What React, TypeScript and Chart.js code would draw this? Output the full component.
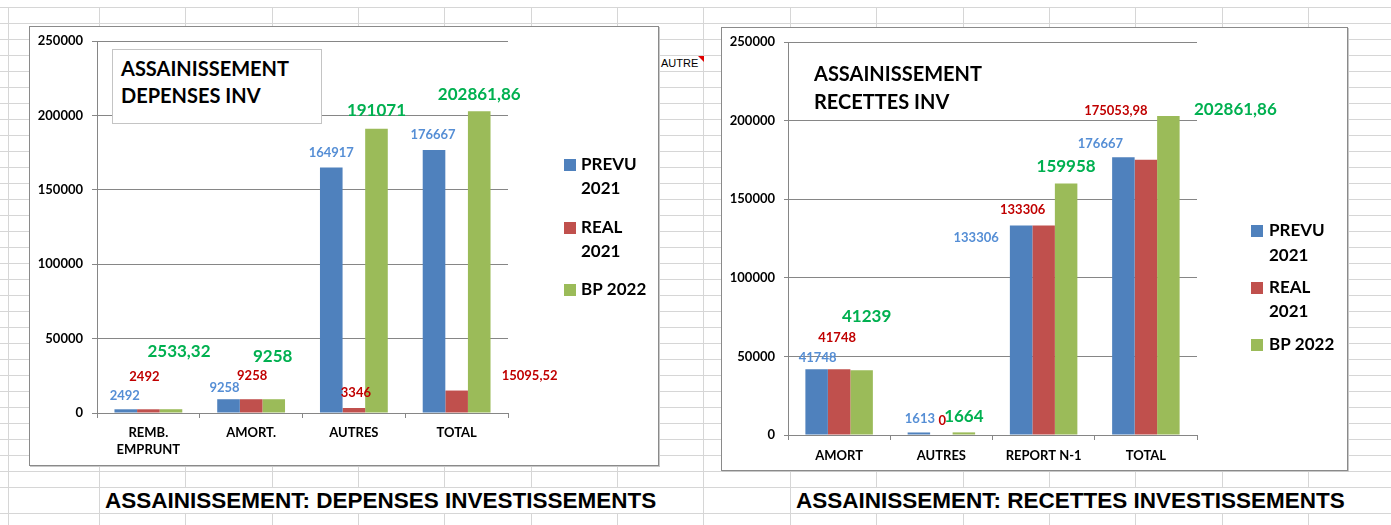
import React, { useEffect, useRef } from "react";
import { Chart, registerables } from "chart.js";

Chart.register(...registerables);

// ---------- DATA ----------
const LEGEND_LINES = [["PREVU", "2021"], ["REAL", "2021"], ["BP 2022"]];

const DEP_CATEGORIES: (string | string[])[] = [["REMB.", "EMPRUNT"], "AMORT.", "AUTRES", "TOTAL"];
const DEP_PREVU = [2492, 9258, 164917, 176667];
const DEP_REAL = [2492, 9258, 3346, 15095.52];
const DEP_BP = [2533.32, 9258, 191071, 202861.86];

const REC_CATEGORIES: (string | string[])[] = ["AMORT", "AUTRES", "REPORT N-1", "TOTAL"];
const REC_PREVU = [41748, 1613, 133306, 176667];
const REC_REAL = [41748, 0, 133306, 175053.98];
const REC_BP = [41239, 1664, 159958, 202861.86];

const Y_MIN = 0;
const Y_MAX = 250000;
const Y_STEP = 50000;

// ---------- STYLE / LAYOUT ----------
const FONT = "Lato, 'Open Sans', sans-serif";
const SHEET_FONT = "'Liberation Sans', Arial, sans-serif";
const GRID = "#868686";
const BAR_COLORS = ["#4F81BD", "#C0504D", "#9BBB59"];
const LABEL_COLORS = ["#558ED5", "#C00000", "#00B050"];
const LABEL_SIZES = [13, 13, 17];

// label offsets (dx, dy) from bar centre-top, per series then category
const DEP_OFFSETS = [
  [[-1, -13], [-4, -11], [0, -15], [-1, -15]],
  [[-4, -32], [1, -23], [2, -15], [73, -15]],
  [[8, -58], [-1, -43], [0, -18], [0, -17]],
];
const REC_OFFSETS = [
  [[1, -12], [1, -13.5], [-45, 12], [-23, -13]],
  [[-2, -32], [1, -14], [-21, -16], [-30, -49]],
  [[5, -54], [0, -16], [0, -17], [67, -7]],
];

const fmt = (v: number) =>
  Number.isInteger(v) ? String(v) : v.toFixed(2).replace(".", ",");

type LegendPos = { sqX: number; textX: number; ys: number[][] };

function makeDecor(offsets: number[][][], legend: LegendPos) {
  return {
    id: "decor",
    afterDatasetsDraw(chart: any) {
      const ctx = chart.ctx as CanvasRenderingContext2D;
      ctx.save();
      chart.data.datasets.forEach((ds: any, i: number) => {
        const meta = chart.getDatasetMeta(i);
        ctx.font = `bold ${LABEL_SIZES[i]}px ${FONT}`;
        ctx.fillStyle = LABEL_COLORS[i];
        ctx.textAlign = "center";
        ctx.textBaseline = "middle";
        meta.data.forEach((el: any, j: number) => {
          const [dx, dy] = offsets[i][j];
          ctx.fillText(fmt(ds.data[j]), el.x + dx, el.y + dy);
        });
      });
      ctx.font = `bold 17px ${FONT}`;
      ctx.textAlign = "left";
      ctx.textBaseline = "middle";
      chart.data.datasets.forEach((ds: any, i: number) => {
        const ys = legend.ys[i];
        ctx.fillStyle = ds.backgroundColor;
        ctx.fillRect(legend.sqX, ys[0] - 6, 12, 12);
        ctx.fillStyle = "#000";
        LEGEND_LINES[i].forEach((t, k) => ctx.fillText(t, legend.textX, ys[k]));
      });
      ctx.restore();
    },
  };
}

type ChartProps = {
  width: number;
  height: number;
  categories: (string | string[])[];
  series: number[][];
  offsets: number[][][];
  legend: LegendPos;
  yWidth: number;
  xHeight: number;
  yTickLen: number;
  yPad: number;
  xPad: number;
  topPad: number;
};

function BarChart(p: ChartProps) {
  const ref = useRef<HTMLCanvasElement>(null);
  useEffect(() => {
    const tickFont = { family: FONT, size: 13, weight: "bold" as const, lineHeight: 1.3 };
    const chart = new Chart(ref.current!, {
      type: "bar",
      data: {
        labels: p.categories as any,
        datasets: p.series.map((d, i) => ({
          label: LEGEND_LINES[i].join(" "),
          data: d,
          backgroundColor: BAR_COLORS[i],
          borderWidth: 0,
          categoryPercentage: 0.66,
          barPercentage: 1,
        })),
      },
      options: {
        responsive: false,
        animation: false,
        layout: { padding: { left: 0, right: 150, top: p.topPad, bottom: 0 } },
        plugins: { legend: { display: false }, tooltip: { enabled: false } },
        scales: {
          x: {
            offset: true,
            grid: { display: true, drawOnChartArea: false, drawTicks: true, tickLength: 5, color: GRID, offset: true },
            border: { color: GRID, width: 1 },
            ticks: { font: tickFont, color: "#000", padding: p.xPad, maxRotation: 0, autoSkip: false },
            afterFit: (s: any) => { s.height = p.xHeight; },
          },
          y: {
            min: Y_MIN,
            max: Y_MAX,
            grid: { color: GRID, tickLength: p.yTickLen, lineWidth: 1 },
            border: { color: GRID, width: 1 },
            ticks: { stepSize: Y_STEP, font: tickFont, color: "#000", padding: p.yPad, callback: (v: any) => String(v) },
            afterFit: (s: any) => {
              s.width = p.yWidth;
              s.paddingTop = 0;
              s.paddingBottom = 0;
            },
          },
        },
      },
      plugins: [makeDecor(p.offsets, p.legend)],
    });
    return () => chart.destroy();
  }, []);
  return (
    <canvas ref={ref} width={p.width} height={p.height} style={{ display: "block", width: p.width, height: p.height }} />
  );
}

// spreadsheet decoration
const ROW_LINES = Array.from({ length: 31 }, (_, k) => 7 + 16 * k).concat([513]);
const COL_LINES = [8].concat(Array.from({ length: 16 }, (_, k) => Math.round(99 + 86.35 * k)));

export default function App() {
  const abs = (o: React.CSSProperties): React.CSSProperties => ({ position: "absolute", ...o });
  return (
    <div style={abs({ left: 0, top: 0, width: 1391, height: 525, background: "#fff", overflow: "hidden" })}>
      {ROW_LINES.map((y) => (
        <div key={"r" + y} style={abs({ left: 0, top: y, width: 1391, height: 1, background: "#d6d6d6" })} />
      ))}
      {COL_LINES.map((x) => (
        <div key={"c" + x} style={abs({ left: x, top: 7, width: 1, height: 518, background: "#d6d6d6" })} />
      ))}

      {/* cell text */}
      <div style={abs({ left: 661, top: 55, height: 16, lineHeight: "16px", fontFamily: SHEET_FONT, fontSize: 11, color: "#000" })}>AUTRE</div>
      <div style={abs({ left: 698, top: 56, width: 0, height: 0, borderTop: "6px solid #e00000", borderLeft: "6px solid transparent" })} />

      <div style={abs({ left: 100, top: 488, width: 603, height: 25, background: "#fff", fontFamily: SHEET_FONT, fontWeight: "bold", fontSize: 22.5, lineHeight: "25px", paddingLeft: 5, boxSizing: "border-box", whiteSpace: "nowrap", color: "#000" })}>
        ASSAINISSEMENT: DEPENSES INVESTISSEMENTS
      </div>
      <div style={abs({ left: 791, top: 488, width: 600, height: 25, background: "#fff", fontFamily: SHEET_FONT, fontWeight: "bold", fontSize: 22.5, lineHeight: "25px", paddingLeft: 5, boxSizing: "border-box", whiteSpace: "nowrap", color: "#000" })}>
        ASSAINISSEMENT: RECETTES INVESTISSEMENTS
      </div>

      {/* left chart */}
      <div style={abs({ left: 29, top: 26, width: 628, height: 438, border: "1px solid #8a8a8a", background: "#fff", boxShadow: "1px 1px 0 #c8c8c8" })}>
        <BarChart
          width={628}
          height={438}
          categories={DEP_CATEGORIES}
          series={[DEP_PREVU, DEP_REAL, DEP_BP]}
          offsets={DEP_OFFSETS}
          legend={{ sqX: 534, textX: 551, ys: [[138, 162], [201, 225], [263]] }}
          yWidth={67}
          xHeight={52}
          yTickLen={5}
          yPad={9}
          xPad={6}
          topPad={14}
        />
      </div>
      <div style={abs({ left: 112, top: 49, width: 210, height: 75, boxSizing: "border-box", border: "1px solid #c4c4c4", background: "#fff", paddingLeft: 8, paddingTop: 5, fontFamily: FONT, fontWeight: "bold", fontSize: 20, lineHeight: "27px", color: "#000" })}>
        ASSAINISSEMENT<br />DEPENSES INV
      </div>

      {/* right chart */}
      <div style={abs({ left: 721, top: 27, width: 625, height: 442, border: "1px solid #8a8a8a", background: "#fff", boxShadow: "1px 1px 0 #c8c8c8" })}>
        <BarChart
          width={625}
          height={442}
          categories={REC_CATEGORIES}
          series={[REC_PREVU, REC_REAL, REC_BP]}
          offsets={REC_OFFSETS}
          legend={{ sqX: 529, textX: 547, ys: [[203, 228], [260, 284], [317]] }}
          yWidth={66}
          xHeight={35}
          yTickLen={4}
          yPad={9}
          xPad={7}
          topPad={14}
        />
      </div>
      <div style={abs({ left: 814, top: 59, fontFamily: FONT, fontWeight: "bold", fontSize: 20, lineHeight: "28px", color: "#000", whiteSpace: "nowrap" })}>
        ASSAINISSEMENT<br />RECETTES INV
      </div>
    </div>
  );
}
